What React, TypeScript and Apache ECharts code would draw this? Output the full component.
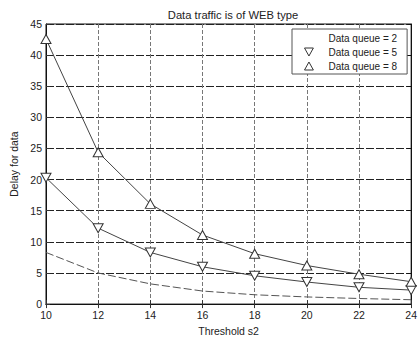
import React, { useEffect, useRef } from "react";
import * as echarts from "echarts";

const xValues = [10, 12, 14, 16, 18, 20, 22, 24];
const queue2 = [8.3, 5.0, 3.25, 2.1, 1.5, 1.15, 0.9, 0.7];
const queue5 = [20.3, 12.2, 8.3, 6.0, 4.55, 3.55, 2.7, 2.25];
const queue8 = [42.6, 24.4, 16.1, 11.1, 8.1, 6.2, 4.8, 3.6];
const seriesNames = ["Data queue = 2", "Data queue = 5", "Data queue = 8"];

const DOWN = "path://M0,0L10,0L5,9Z";
const UP = "path://M5,0L10,9L0,9Z";

export default function App() {
  const ref = useRef<HTMLDivElement>(null);
  useEffect(() => {
    if (!ref.current) return;
    const chart = echarts.init(ref.current, null, { renderer: "svg" });
    const font = "Liberation Sans, Arial, sans-serif";
    const pair = (arr: number[]) => xValues.map((x, i) => [x, arr[i]]);
    const iconStyle = { color: "#fff", borderColor: "#333", borderWidth: 1 };
    chart.setOption({
      animation: false,
      backgroundColor: "#fff",
      textStyle: { fontFamily: font },
      title: {
        text: "Data traffic is of WEB type",
        left: 228,
        textAlign: "center",
        top: 4,
        textStyle: { fontSize: 11.2, fontWeight: "normal", color: "#222", fontFamily: font },
      },
      legend: {
        left: 292,
        top: 29,
        orient: "vertical",
        padding: [4, 10, 3, 12],
        itemGap: 4,
        itemWidth: 9,
        itemHeight: 8,
        borderColor: "#555",
        borderWidth: 1,
        backgroundColor: "#fff",
        textStyle: { fontSize: 10, color: "#222", fontFamily: font, padding: [0, 0, 0, 10] },
        data: [
          { name: seriesNames[0], icon: "rect", itemStyle: { opacity: 0 } },
          { name: seriesNames[1], icon: DOWN, itemStyle: iconStyle },
          { name: seriesNames[2], icon: UP, itemStyle: iconStyle },
        ],
      },
      grid: {
        left: 42,
        right: 5,
        top: 24,
        bottom: 31,
        show: true,
        borderColor: "#111",
        borderWidth: 1,
        backgroundColor: "transparent",
      },
      xAxis: [
        {
          type: "value",
          min: 10,
          max: 24,
          interval: 2,
          name: "Threshold s2",
          nameLocation: "middle",
          nameGap: 20,
          nameTextStyle: { fontSize: 10.5, color: "#222" },
          axisLine: { show: true, lineStyle: { color: "#111" } },
          axisTick: { show: true, inside: true, length: 4, lineStyle: { color: "#333" } },
          axisLabel: { fontSize: 10.5, color: "#222", margin: 5 },
          splitLine: { show: true, lineStyle: { color: "#777", type: [4, 2], width: 1 } },
        },
        {
          type: "value",
          position: "top",
          min: 10,
          max: 24,
          interval: 2,
          axisLine: { show: true, lineStyle: { color: "#111" } },
          axisTick: { show: true, inside: true, length: 4, lineStyle: { color: "#333" } },
          axisLabel: { show: false },
          splitLine: { show: false },
        },
      ],
      yAxis: [
        {
          type: "value",
          min: 0,
          max: 45,
          interval: 5,
          name: "Delay for data",
          nameLocation: "middle",
          nameGap: 27,
          nameTextStyle: { fontSize: 10.5, color: "#222" },
          axisLine: { show: true, lineStyle: { color: "#111" } },
          axisTick: { show: true, inside: true, length: 4, lineStyle: { color: "#333" } },
          axisLabel: { fontSize: 10.5, color: "#222", margin: 4 },
          splitLine: { show: true, lineStyle: { color: "#222", type: [8, 2], width: 1 } },
        },
        {
          type: "value",
          position: "right",
          min: 0,
          max: 45,
          interval: 5,
          axisLine: { show: true, lineStyle: { color: "#111" } },
          axisTick: { show: true, inside: true, length: 4 },
          axisLabel: { show: false },
          splitLine: { show: false },
        },
      ],
      series: [
        {
          name: seriesNames[0],
          type: "line",
          data: pair(queue2),
          symbol: "none",
          lineStyle: { color: "#555", width: 1, type: [8, 3] },
          itemStyle: { color: "#555" },
        },
        {
          name: seriesNames[1],
          type: "line",
          data: pair(queue5),
          symbol: DOWN,
          symbolSize: [10, 9],
          lineStyle: { color: "#444", width: 1 },
          itemStyle: { color: "#fff", borderColor: "#333", borderWidth: 1 },
        },
        {
          name: seriesNames[2],
          type: "line",
          data: pair(queue8),
          symbol: UP,
          symbolSize: [10, 9],
          lineStyle: { color: "#444", width: 1 },
          itemStyle: { color: "#fff", borderColor: "#333", borderWidth: 1 },
        },
      ],
    });
    return () => chart.dispose();
  }, []);
  return (
    <div
      ref={ref}
      style={{ position: "fixed", left: 0, top: 0, width: 420, height: 341 }}
    />
  );
}
